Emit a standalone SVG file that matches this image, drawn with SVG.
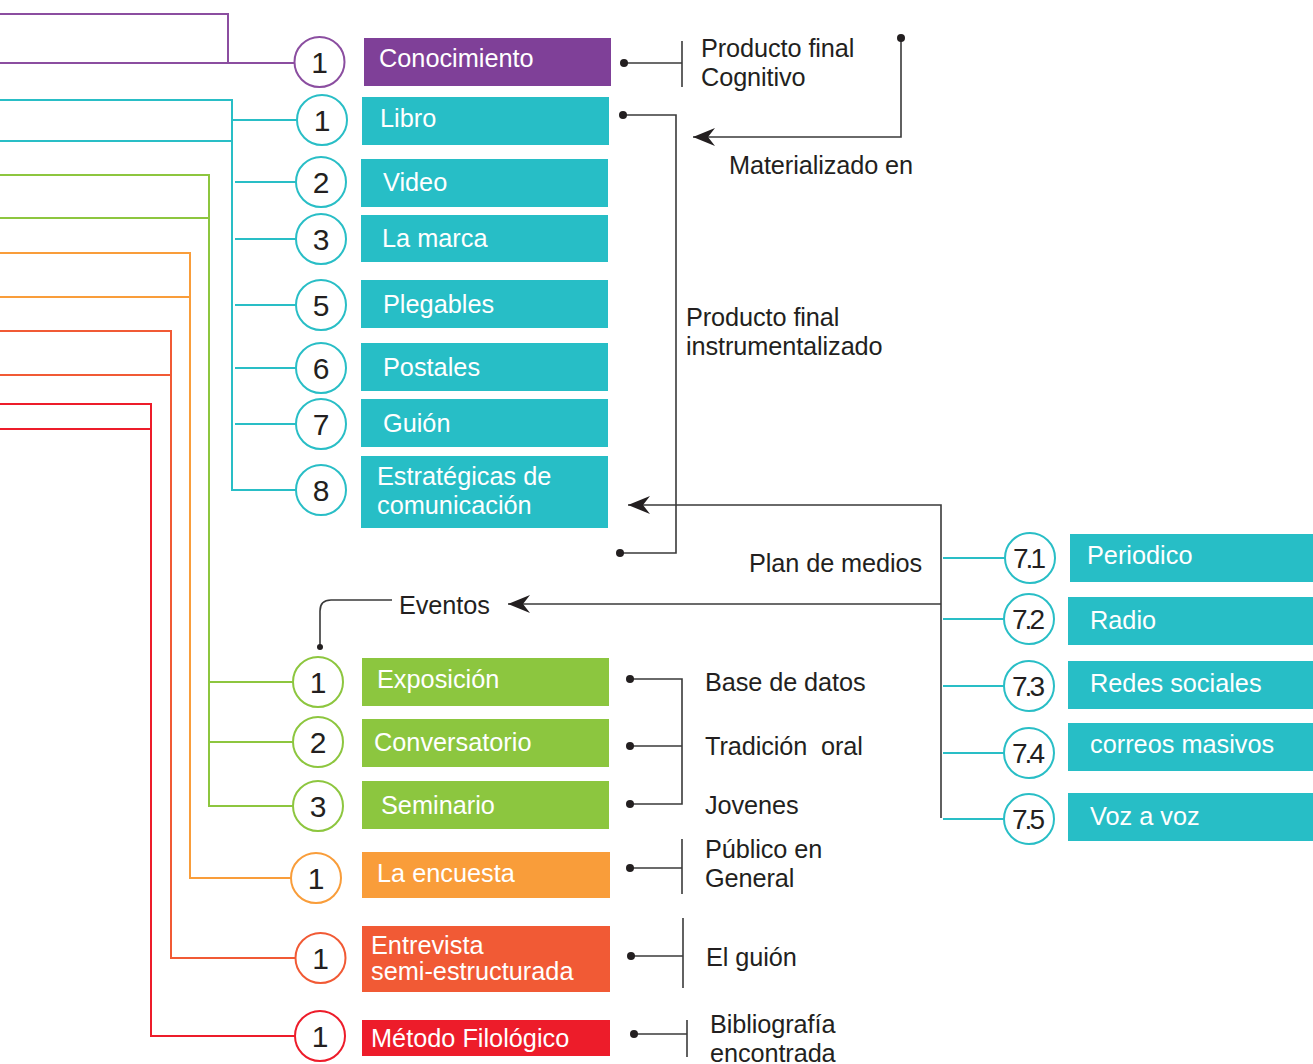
<svg xmlns="http://www.w3.org/2000/svg" width="1313" height="1064" viewBox="0 0 1313 1064">
<defs>
<style>
.t{font-family:"Liberation Sans",Arial,sans-serif;font-size:25.3px;fill:#231f20;letter-spacing:-0.1px}
.w{font-family:"Liberation Sans",Arial,sans-serif;font-size:25.3px;fill:#fff;letter-spacing:0px}
.n{font-family:"Liberation Sans",Arial,sans-serif;font-size:30px;fill:#231f20;text-anchor:middle}
.n2{font-family:"Liberation Sans",Arial,sans-serif;font-size:28px;fill:#231f20;text-anchor:middle;letter-spacing:-3px}
.d{stroke:#3a3a3a;stroke-width:1.6;fill:none}
.lp{stroke:#8b4ea0;stroke-width:2;fill:none}
.lt{stroke:#29bec6;stroke-width:2;fill:none}
.lg{stroke:#8dc63f;stroke-width:2;fill:none}
.lo{stroke:#f99d3a;stroke-width:2;fill:none}
.lr{stroke:#f15a35;stroke-width:2;fill:none}
.lx{stroke:#ed1c2a;stroke-width:2;fill:none}
.c{fill:#fff;stroke-width:2}
.dot{fill:#231f20}
</style>
<marker id="ah" markerUnits="userSpaceOnUse" markerWidth="30" markerHeight="24" viewBox="-24 -12 26 24" refX="0" refY="0" orient="auto">
<path d="M0,0 L-22,-9 L-15,0 L-22,9 Z" fill="#231f20"/>
</marker>
</defs>
<g id="connectors">
<polyline class="lp" points="0,14 228,14 228,63"/>
<line class="lp" x1="0" y1="63" x2="295" y2="63"/>
<polyline class="lt" points="0,100 232,100 232,490 296,490"/>
<line class="lt" x1="0" y1="141" x2="232" y2="141"/>
<line class="lt" x1="232" y1="120" x2="297" y2="120"/>
<line class="lt" x1="235" y1="182" x2="296" y2="182"/>
<line class="lt" x1="235" y1="239" x2="296" y2="239"/>
<line class="lt" x1="235" y1="305" x2="296" y2="305"/>
<line class="lt" x1="235" y1="368" x2="296" y2="368"/>
<line class="lt" x1="235" y1="424" x2="296" y2="424"/>
<polyline class="lg" points="0,175 209,175 209,806 293,806"/>
<line class="lg" x1="0" y1="218" x2="210" y2="218"/>
<line class="lg" x1="209" y1="682" x2="293" y2="682"/>
<line class="lg" x1="209" y1="742" x2="293" y2="742"/>
<polyline class="lo" points="0,253 190,253 190,878 291,878"/>
<line class="lo" x1="0" y1="297" x2="190" y2="297"/>
<polyline class="lr" points="0,331 171,331 171,958 295,958"/>
<line class="lr" x1="0" y1="375" x2="171" y2="375"/>
<polyline class="lx" points="0,404 151,404 151,1036 295,1036"/>
<line class="lx" x1="0" y1="429" x2="151" y2="429"/>
<line class="lt" x1="943" y1="558" x2="1005" y2="558"/>
<line class="lt" x1="943" y1="619" x2="1004" y2="619"/>
<line class="lt" x1="943" y1="686" x2="1004" y2="686"/>
<line class="lt" x1="943" y1="753" x2="1004" y2="753"/>
<line class="lt" x1="943" y1="819" x2="1004" y2="819"/>
<line class="d" x1="624" y1="63" x2="682" y2="63"/>
<line class="d" x1="682" y1="41" x2="682" y2="87"/>
<polyline class="d" points="623,115 676,115 676,553 620,553"/>
<polyline class="d" points="901,38 901,137 693,137" marker-end="url(#ah)"/>
<polyline class="d" points="941,818 941,505 628,505" marker-end="url(#ah)"/>
<line class="d" x1="941" y1="604" x2="508" y2="604" marker-end="url(#ah)"/>
<path class="d" d="M320,646 V611 Q320,600 331,600 H392"/>
<polyline class="d" points="630,679 682,679 682,804 630,804"/>
<line class="d" x1="630" y1="746" x2="682" y2="746"/>
<line class="d" x1="630" y1="868" x2="682" y2="868"/>
<line class="d" x1="682" y1="839" x2="682" y2="894"/>
<line class="d" x1="631" y1="956" x2="683" y2="956"/>
<line class="d" x1="683" y1="918" x2="683" y2="988"/>
<line class="d" x1="634" y1="1034" x2="687" y2="1034"/>
<line class="d" x1="687" y1="1020" x2="687" y2="1057"/>
<circle class="dot" cx="624" cy="63" r="4"/>
<circle class="dot" cx="623" cy="115" r="4"/>
<circle class="dot" cx="620" cy="553" r="4"/>
<circle class="dot" cx="901" cy="38" r="4"/>
<circle class="dot" cx="320" cy="647" r="3"/>
<circle class="dot" cx="630" cy="679" r="4"/>
<circle class="dot" cx="630" cy="746" r="4"/>
<circle class="dot" cx="630" cy="804" r="4"/>
<circle class="dot" cx="630" cy="868" r="4"/>
<circle class="dot" cx="631" cy="956" r="4"/>
<circle class="dot" cx="634" cy="1034" r="4"/>
</g>
<g id="labels">
<text class="t" x="701" y="57">Producto final</text>
<text class="t" x="701" y="86">Cognitivo</text>
<text class="t" x="729" y="174">Materializado en</text>
<text class="t" x="686" y="326">Producto final</text>
<text class="t" x="686" y="355">instrumentalizado</text>
<text class="t" x="749" y="572">Plan de medios</text>
<text class="t" x="399" y="614">Eventos</text>
<text class="t" x="705" y="691">Base de datos</text>
<text class="t" x="705" y="755" xml:space="preserve">Tradición  oral</text>
<text class="t" x="705" y="814">Jovenes</text>
<text class="t" x="705" y="858">Público en</text>
<text class="t" x="705" y="887">General</text>
<text class="t" x="706" y="966">El guión</text>
<text class="t" x="710" y="1033">Bibliografía</text>
<text class="t" x="710" y="1062">encontrada</text>
</g>
<g id="n-conocimiento">
<circle class="c" cx="319.5" cy="62" r="25" stroke="#8b4ea0"/>
<text class="n" x="319.5" y="73">1</text>
<rect x="364" y="38" width="247" height="48" fill="#7f4098"/>
<text class="w" x="379" y="67">Conocimiento</text>
</g>
<g id="n-libro">
<circle class="c" cx="322" cy="120" r="25" stroke="#29bec6"/>
<text class="n" x="322" y="131">1</text>
<rect x="362" y="97" width="247" height="48" fill="#27bec6"/>
<text class="w" x="380" y="127">Libro</text>
</g>
<g id="n-video">
<circle class="c" cx="321" cy="182" r="25" stroke="#29bec6"/>
<text class="n" x="321" y="193">2</text>
<rect x="361" y="159" width="247" height="48" fill="#27bec6"/>
<text class="w" x="383" y="191">Video</text>
</g>
<g id="n-marca">
<circle class="c" cx="321" cy="239" r="25" stroke="#29bec6"/>
<text class="n" x="321" y="250">3</text>
<rect x="361" y="215" width="247" height="47" fill="#27bec6"/>
<text class="w" x="382" y="247">La marca</text>
</g>
<g id="n-plegables">
<circle class="c" cx="321" cy="305" r="25" stroke="#29bec6"/>
<text class="n" x="321" y="316">5</text>
<rect x="361" y="280" width="247" height="48" fill="#27bec6"/>
<text class="w" x="383" y="313">Plegables</text>
</g>
<g id="n-postales">
<circle class="c" cx="321" cy="368" r="25" stroke="#29bec6"/>
<text class="n" x="321" y="379">6</text>
<rect x="361" y="343" width="247" height="48" fill="#27bec6"/>
<text class="w" x="383" y="376">Postales</text>
</g>
<g id="n-guion">
<circle class="c" cx="321" cy="424" r="25" stroke="#29bec6"/>
<text class="n" x="321" y="435">7</text>
<rect x="361" y="399" width="247" height="48" fill="#27bec6"/>
<text class="w" x="383" y="432">Guión</text>
</g>
<g id="n-estrategicas">
<circle class="c" cx="321" cy="490" r="25" stroke="#29bec6"/>
<text class="n" x="321" y="501">8</text>
<rect x="361" y="456" width="247" height="72" fill="#27bec6"/>
<text class="w" x="377" y="485">Estratégicas de</text>
<text class="w" x="377" y="514">comunicación</text>
</g>
<g id="n-exposicion">
<circle class="c" cx="318" cy="682" r="25" stroke="#8dc63f"/>
<text class="n" x="318" y="693">1</text>
<rect x="362" y="658" width="247" height="48" fill="#8cc63f"/>
<text class="w" x="377" y="688">Exposición</text>
</g>
<g id="n-conversatorio">
<circle class="c" cx="318" cy="742" r="25" stroke="#8dc63f"/>
<text class="n" x="318" y="753">2</text>
<rect x="362" y="719" width="247" height="48" fill="#8cc63f"/>
<text class="w" x="374" y="751">Conversatorio</text>
</g>
<g id="n-seminario">
<circle class="c" cx="318" cy="806" r="25" stroke="#8dc63f"/>
<text class="n" x="318" y="817">3</text>
<rect x="362" y="781" width="247" height="48" fill="#8cc63f"/>
<text class="w" x="381" y="814">Seminario</text>
</g>
<g id="n-encuesta">
<circle class="c" cx="316" cy="878" r="25" stroke="#f99d3a"/>
<text class="n" x="316" y="889">1</text>
<rect x="362" y="852" width="248" height="46" fill="#f99d3a"/>
<text class="w" x="377" y="882">La encuesta</text>
</g>
<g id="n-entrevista">
<circle class="c" cx="320.5" cy="958" r="25" stroke="#f15a35"/>
<text class="n" x="320.5" y="969">1</text>
<rect x="362" y="926" width="248" height="66" fill="#f15a35"/>
<text class="w" x="371" y="954">Entrevista</text>
<text class="w" x="371" y="980">semi-estructurada</text>
</g>
<g id="n-metodo">
<circle class="c" cx="320" cy="1036" r="25" stroke="#ed1c2a"/>
<text class="n" x="320" y="1047">1</text>
<rect x="362" y="1020" width="248" height="36" fill="#ed1c2a"/>
<text class="w" x="371" y="1047">Método Filológico</text>
</g>
<g id="n-periodico">
<circle class="c" cx="1030" cy="558" r="25" stroke="#29bec6"/>
<text class="n2" x="1028" y="568">7.1</text>
<rect x="1070" y="534" width="243" height="48" fill="#27bec6"/>
<text class="w" x="1087" y="564">Periodico</text>
</g>
<g id="n-radio">
<circle class="c" cx="1029" cy="619" r="25" stroke="#29bec6"/>
<text class="n2" x="1027" y="629">7.2</text>
<rect x="1068" y="597" width="245" height="48" fill="#27bec6"/>
<text class="w" x="1090" y="629">Radio</text>
</g>
<g id="n-redes">
<circle class="c" cx="1029" cy="686" r="25" stroke="#29bec6"/>
<text class="n2" x="1027" y="696">7.3</text>
<rect x="1068" y="661" width="245" height="48" fill="#27bec6"/>
<text class="w" x="1090" y="692">Redes sociales</text>
</g>
<g id="n-correos">
<circle class="c" cx="1029" cy="753" r="25" stroke="#29bec6"/>
<text class="n2" x="1027" y="763">7.4</text>
<rect x="1068" y="723" width="245" height="48" fill="#27bec6"/>
<text class="w" x="1090" y="753">correos masivos</text>
</g>
<g id="n-voz">
<circle class="c" cx="1029" cy="819" r="25" stroke="#29bec6"/>
<text class="n2" x="1027" y="829">7.5</text>
<rect x="1068" y="793" width="245" height="48" fill="#27bec6"/>
<text class="w" x="1090" y="825">Voz a voz</text>
</g>
</svg>
